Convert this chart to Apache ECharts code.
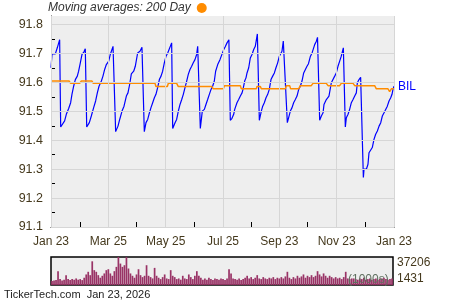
<!DOCTYPE html>
<html><head><meta charset="utf-8">
<script src="https://cdn.jsdelivr.net/npm/echarts@6/dist/echarts.min.js"></script>
<style>html,body{margin:0;padding:0;background:#fff}#c{width:450px;height:300px}</style>
</head><body><div id="c"></div>
<script>
// ---- axis data ----
const xTickDays = [0, 31, 61, 91, 122, 152, 183, 213, 243, 273, 304, 334, 365];
const xLabelDays = [0, 61, 122, 183, 243, 304, 365];
const xLabelText = ['Jan 23', 'Mar 25', 'May 25', 'Jul 25', 'Sep 23', 'Nov 23', 'Jan 23'];
const yLabels = [91.1, 91.2, 91.3, 91.4, 91.5, 91.6, 91.7, 91.8];
const yTicks = [91.1, 91.15, 91.2, 91.25, 91.3, 91.35, 91.4, 91.45, 91.5, 91.55, 91.6, 91.65, 91.7, 91.75, 91.8];
const volLabels = [1431, 37206];

// ---- price (days since Jan 23) ----
const priceDays = [
  0, 1.1, 4.6, 6.7, 9.2,
  10.3, 12.4, 14.5, 16.3, 18.8, 20.9, 22.3, 24.1, 25.9, 28, 29.4, 31.2, 33, 35.1, 36.5,
  38, 40.8, 42.9, 45.4, 47.5, 49.3, 51.1, 53.6, 55.3, 57.1, 58.9, 61.4, 63.1, 66,
  68.8, 71.3, 73.1, 75.6, 77.7, 80.2, 81.9, 83.7, 85.5, 88, 89.7, 91.2, 92.2, 94.7, 96.8,
  99.3, 101.1, 102.9, 104.3, 106.4, 108.2, 110, 111.7, 113.5, 115.3, 117.1, 118.8, 120.6, 122.4, 124.2, 125.9, 128.4,
  129.5, 132, 133.7, 135.5, 137.3, 139.1, 140.8, 142.6, 144.4, 146.1, 147.9, 149.7, 151.4, 153.2, 155, 156.1,
  158.9, 161, 163.2, 164.9, 166.7, 168.5, 170.3, 172, 173.8, 175.2, 177.4, 179.8, 181.6, 183.6, 185.4, 187.3, 189.3,
  190.8, 192.6, 194.4, 195.5, 196.9, 197.9, 199.7, 201.5, 203.3, 204.3, 206.1, 207.5, 208.6, 210.4, 212.1, 213.9, 215.7, 217.4, 218.5, 219.6,
  221.7, 223.8, 225.3, 227, 228.8, 230.6, 232.3, 234.1, 235.9, 237.7, 239.4, 241.2, 243, 244.8, 245.8, 247.2,
  251.5, 252.9, 254.7, 256.5, 258.2, 260, 261.8, 263.6, 265.3, 267.1, 268.9, 270.7, 272.4, 274, 276, 278, 280.6, 282.4, 283.6,
  285.9, 287.7, 289.5, 290.5, 291.9, 293, 294.8, 295.8, 297.3, 298.3, 300.1, 301.9, 303.6, 305.4, 307.2, 308.9, 311.1,
  313.2, 314.3, 316.1, 317.8, 319.6, 321.4, 323.2, 324.9, 326, 327.8, 329.5,
  332.4, 333.1, 335.6, 337.3, 338.4, 340.2, 341.9, 343.7, 345.5, 347.3, 349.1, 350.9, 352.6, 354.4, 356.2, 357.9, 359.7, 361.5, 362.9, 363.9, 365
];
const priceVals = [
  91.651, 91.699, 91.699, 91.720, 91.748,
  91.446, 91.446, 91.467, 91.490, 91.510, 91.530, 91.559, 91.587, 91.610, 91.622, 91.639, 91.668, 91.697, 91.706, 91.717,
  91.446, 91.461, 91.484, 91.513, 91.536, 91.564, 91.587, 91.605, 91.622, 91.645, 91.662, 91.674, 91.697, 91.725,
  91.430, 91.449, 91.472, 91.501, 91.518, 91.553, 91.564, 91.593, 91.630, 91.639, 91.656, 91.660, 91.702, 91.708, 91.722,
  91.430, 91.461, 91.472, 91.490, 91.513, 91.530, 91.547, 91.559, 91.582, 91.610, 91.622, 91.639, 91.668, 91.691, 91.702, 91.708, 91.737,
  91.441, 91.461, 91.472, 91.501, 91.524, 91.541, 91.559, 91.582, 91.605, 91.628, 91.645, 91.656, 91.668, 91.679, 91.697, 91.725,
  91.441, 91.501, 91.507, 91.524, 91.541, 91.559, 91.576, 91.587, 91.605, 91.639, 91.662, 91.679, 91.685, 91.712, 91.724, 91.737, 91.748,
  91.469, 91.476, 91.490, 91.507, 91.513, 91.530, 91.541, 91.553, 91.564, 91.576, 91.605, 91.616, 91.633, 91.651, 91.685, 91.697, 91.714, 91.725, 91.731, 91.768,
  91.469, 91.501, 91.518, 91.530, 91.547, 91.559, 91.576, 91.610, 91.622, 91.633, 91.651, 91.668, 91.691, 91.697, 91.708, 91.743,
  91.461, 91.467, 91.501, 91.513, 91.530, 91.541, 91.553, 91.576, 91.587, 91.605, 91.633, 91.639, 91.656, 91.665, 91.690, 91.704, 91.731, 91.743, 91.756,
  91.469, 91.484, 91.495, 91.524, 91.530, 91.541, 91.536, 91.553, 91.559, 91.599, 91.605, 91.622, 91.633, 91.656, 91.674, 91.691, 91.720,
  91.446, 91.478, 91.490, 91.507, 91.530, 91.541, 91.553, 91.564, 91.599, 91.610, 91.618,
  91.271, 91.300, 91.300, 91.317, 91.357, 91.363, 91.375, 91.403, 91.421, 91.432, 91.449, 91.461, 91.484, 91.495, 91.501, 91.518, 91.536, 91.547, 91.559, 91.576, 91.587
];

// ---- 200 day moving average ----
const maDays = [0, 19.2, 20.9, 30.5, 32.3, 43.6, 45, 110.7, 111.7, 123.8, 124.9, 133.7, 135.5, 171, 172.7, 183.4, 184.5, 201.5, 202.5, 218.5,
  219.2, 222.8, 223.8, 249.4, 250.4, 254, 255, 263.6, 265.3, 277, 278.8, 293, 294.8, 307.2, 308.9, 321.4, 323.2, 344.4, 346.2, 358.6, 360.4, 362.2, 365];
const maVals = [91.605, 91.605, 91.597, 91.597, 91.605, 91.605, 91.597, 91.597, 91.586, 91.586, 91.597, 91.597, 91.586, 91.586, 91.578, 91.578, 91.589, 91.589, 91.578, 91.578,
  91.586, 91.586, 91.578, 91.578, 91.589, 91.589, 91.578, 91.578, 91.589, 91.589, 91.597, 91.597, 91.589, 91.589, 91.597, 91.597, 91.589, 91.589, 91.578, 91.578, 91.568, 91.578, 91.578];

// ---- volume (1000s) ----
const volumes = [
  6500, 7300, 7700, 19100, 9000, 7300, 8200, 14000, 9000, 7700,
  9000, 8200, 9800, 8200, 9000, 7700, 10700, 14900, 18300, 14000,
  31700, 20400, 18300, 14000, 10700, 13200, 16200, 20400, 21600, 16200,
  13200, 19100, 24600, 37206, 28800, 24600, 26700, 37000, 22500, 16200,
  13200, 10700, 14900, 21600, 14000, 11500, 13200, 26700, 13200, 11500,
  9800, 23300, 13200, 10700, 9000, 11500, 14900, 9800, 9000, 20400,
  13200, 11500, 9000, 9800, 8200, 13200, 9800, 9000, 14900, 11500,
  9000, 13200, 19100, 13200, 10700, 8200, 9800, 8200, 10700, 9000,
  7700, 9800, 9000, 8200, 9800, 9000, 7700, 9800, 21600, 16200,
  9800, 9000, 8200, 9800, 7700, 9000, 10700, 13200, 9800, 11500,
  9000, 10700, 14000, 9800, 9000, 11500, 9800, 9000, 10700, 9800,
  11500, 9000, 10700, 9800, 11500, 9800, 12400, 18300, 10700, 9000,
  11500, 9800, 13200, 10700, 12400, 14900, 10700, 13200, 11500, 14000,
  11500, 13200, 19100, 14900, 12400, 16200, 13200, 10700, 13200, 11500,
  9800, 11500, 9800, 10700, 9000, 11500, 18300, 9800, 9000, 9800,
  9800, 9000, 8200, 9800, 9000, 10700, 8200, 9000, 9800, 8200,
  9000, 9800, 8200, 9000, 9800, 10700, 9000, 8200, 9000, 9800
];

const FONT = 'Liberation Sans, Arial, sans-serif';
const LABEL_COLOR = '#45391d';

const chart = echarts.init(document.getElementById('c'), null, { renderer: 'canvas' });
chart.setOption({
  animation: false,
  textStyle: { fontFamily: FONT },
  legend: {
    data: ['Moving averages: 200 Day'],
    left: 48, top: 2, padding: 0,
    align: 'right', icon: 'circle', itemWidth: 10, itemHeight: 10,
    selectedMode: false,
    textStyle: { fontStyle: 'italic', fontSize: 12, color: '#333', fontFamily: FONT, padding: [0, 1, 0, 0] }
  },
  grid: [
    { left: 51, top: 16, width: 343, height: 211, show: true, backgroundColor: '#eeeeee', borderWidth: 0, containLabel: false },
    { left: 51, top: 257, width: 342, height: 28, show: true, backgroundColor: '#eeeeee', borderColor: '#000', borderWidth: 1.5, containLabel: false }
  ],
  xAxis: [
    {
      type: 'value', gridIndex: 0, min: 0, max: 365,
      axisLine: { show: true, onZero: false, lineStyle: { color: '#000', width: 1 } },
      axisTick: { show: true, inside: true, length: 5, customValues: xTickDays, lineStyle: { color: '#000' } },
      axisLabel: {
        customValues: xLabelDays, margin: 9, fontSize: 12, color: LABEL_COLOR, fontFamily: FONT,
        formatter: v => { const i = xLabelDays.indexOf(v); return i >= 0 ? xLabelText[i] : ''; }
      },
      splitLine: { show: false }
    },
    {
      type: 'category', gridIndex: 1, data: volumes.map((_, i) => i), show: false
    }
  ],
  yAxis: [
    {
      type: 'value', gridIndex: 0, min: 91.1, max: 91.83,
      axisLine: { show: true, onZero: false, lineStyle: { color: '#000', width: 1 } },
      axisTick: { show: true, inside: true, length: 4, customValues: yTicks, lineStyle: { color: '#000' } },
      axisLabel: { customValues: yLabels, margin: 8, fontSize: 12.5, color: LABEL_COLOR, fontFamily: FONT, formatter: v => v.toFixed(1) },
      splitLine: { show: false }
    },
    {
      type: 'value', gridIndex: 1, min: volLabels[0], max: volLabels[1], position: 'right',
      axisLine: { show: false }, axisTick: { show: false }, splitLine: { show: false },
      axisLabel: {
        customValues: volLabels, margin: 4, fontSize: 12, color: LABEL_COLOR, fontFamily: FONT,
        formatter: v => String(v),
        verticalAlignMinLabel: 'bottom', verticalAlignMaxLabel: 'top'
      }
    }
  ],
  series: [
    {
      type: 'line', name: 'grid', xAxisIndex: 0, yAxisIndex: 0, data: [], z: 1, silent: true,
      markLine: {
        silent: true, symbol: ['none', 'none'], animation: false,
        label: { show: false },
        lineStyle: { color: '#d6d6d6', width: 1, type: 'solid' },
        emphasis: { disabled: true },
        data: yLabels.map(v => ({ yAxis: v })).concat(xLabelDays.map(d => ({ xAxis: d })))
      }
    },
    {
      type: 'line', name: 'BIL', xAxisIndex: 0, yAxisIndex: 0, z: 3,
      data: priceDays.map((d, i) => [d, priceVals[i]]),
      showSymbol: false, symbol: 'none',
      lineStyle: { color: '#0000ff', width: 1.2 }, itemStyle: { color: '#0000ff' },
      endLabel: { show: true, formatter: '{a}', color: '#0000ff', fontSize: 12, fontFamily: FONT, distance: 4 }
    },
    {
      type: 'line', name: 'Moving averages: 200 Day', xAxisIndex: 0, yAxisIndex: 0, z: 4,
      data: maDays.map((d, i) => [d, maVals[i]]),
      showSymbol: false, symbol: 'none',
      lineStyle: { color: '#ff8c00', width: 1.5 }, itemStyle: { color: '#ff8c00' }
    },
    {
      type: 'bar', name: 'Volume', xAxisIndex: 1, yAxisIndex: 1,
      data: volumes, barCategoryGap: '15%',
      itemStyle: { color: '#993366' }
    }
  ],
  graphic: [
    { type: 'text', left: 348, top: 274, z: 100, silent: true,
      style: { text: '(1000s)', font: '12px Liberation Sans, Arial, sans-serif', fill: '#5f6f5f' } },
    { type: 'text', left: 4, top: 289, z: 100, silent: true,
      style: { text: 'TickerTech.com  Jan 23, 2026', font: '11px Liberation Sans, Arial, sans-serif', fill: '#222' } }
  ]
});
</script>
</body></html>
